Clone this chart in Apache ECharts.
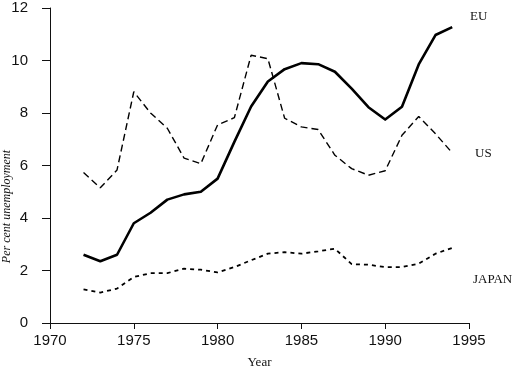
<!DOCTYPE html>
<html>
<head>
<meta charset="utf-8">
<script src="https://cdn.jsdelivr.net/npm/echarts@6/dist/echarts.min.js"></script>
<style>html,body{margin:0;padding:0;background:#fff}#c{width:516px;height:368px}</style>
</head>
<body>
<div id="c"></div>
<script>
const years = [1972,1973,1974,1975,1976,1977,1978,1979,1980,1981,1982,1983,1984,1985,1986,1987,1988,1989,1990,1991,1992,1993,1994];
const euValues = [2.6,2.35,2.6,3.8,4.2,4.7,4.9,5.0,5.5,6.9,8.25,9.2,9.67,9.9,9.86,9.57,8.93,8.22,7.75,8.24,9.85,10.97,11.27];
const usValues = [5.73,5.15,5.83,8.81,8.0,7.42,6.28,6.07,7.55,7.82,10.2,10.07,7.8,7.47,7.37,6.39,5.88,5.63,5.8,7.15,7.87,7.21,6.48];
const japanValues = [1.28,1.16,1.31,1.75,1.9,1.9,2.07,2.03,1.93,2.13,2.39,2.64,2.7,2.64,2.73,2.83,2.24,2.22,2.13,2.13,2.26,2.64,2.86];
const xTicks = [1970,1975,1980,1985,1990,1995];
const yTicks = [0,2,4,6,8,10,12];

const pairs = vals => years.map((y,i)=>[y, vals[i]]);
const chart = echarts.init(document.getElementById('c'), null, {renderer:'canvas'});
const tickFont = {color:'#111', fontFamily:'Liberation Sans, Arial, sans-serif', fontSize:15};
chart.setOption({
  animation:false,
  grid:{left:50, right:47, top:8, bottom:45, containLabel:false, outerBoundsMode:'none'},
  xAxis:{
    type:'value', min:xTicks[0], max:xTicks[xTicks.length-1], interval:5,
    axisLine:{show:true, onZero:false, lineStyle:{color:'#111', width:1}},
    axisTick:{show:true, inside:false, length:6, lineStyle:{color:'#111'}},
    axisLabel:Object.assign({margin:10, formatter: v => xTicks.includes(v) ? String(v) : ''}, tickFont),
    splitLine:{show:false},
    name:'Year', nameLocation:'middle', nameGap:33, nameMoveOverlap:false,
    nameTextStyle:{color:'#111', fontFamily:'Liberation Serif, Times New Roman, serif', fontSize:13}
  },
  yAxis:{
    type:'value', min:yTicks[0], max:yTicks[yTicks.length-1], interval:2,
    axisLine:{show:true, lineStyle:{color:'#111', width:1}},
    axisTick:{show:true, length:8, lineStyle:{color:'#111'}},
    axisLabel:Object.assign({margin:22, align:'right', formatter: v => yTicks.includes(v) ? String(v) : ''}, tickFont),
    splitLine:{show:false},
    name:'Per cent unemployment', nameLocation:'middle', nameGap:37, nameMoveOverlap:false,
    nameTextStyle:{color:'#111', fontFamily:'Liberation Serif, Times New Roman, serif', fontSize:12, fontStyle:'italic', padding:[0,82,0,0]}
  },
  series:[
    {name:'EU', type:'line', data:pairs(euValues), symbol:'none',
     lineStyle:{color:'#000', width:2.6, type:'solid', join:'round'}},
    {name:'US', type:'line', data:pairs(usValues), symbol:'none',
     lineStyle:{color:'#000', width:1.4, type:[7,4]}},
    {name:'JAPAN', type:'line', data:pairs(japanValues), symbol:'none',
     lineStyle:{color:'#000', width:1.8, type:[4,4]}}
  ],
  graphic:[
    {type:'text', left:470, top:10, style:{text:'EU', fill:'#111', font:'13px "Liberation Serif", serif'}},
    {type:'text', left:475, top:147, style:{text:'US', fill:'#111', font:'13px "Liberation Serif", serif'}},
    {type:'text', left:473, top:273, style:{text:'JAPAN', fill:'#111', font:'13px "Liberation Serif", serif'}}
  ]
});
</script>
</body>
</html>
